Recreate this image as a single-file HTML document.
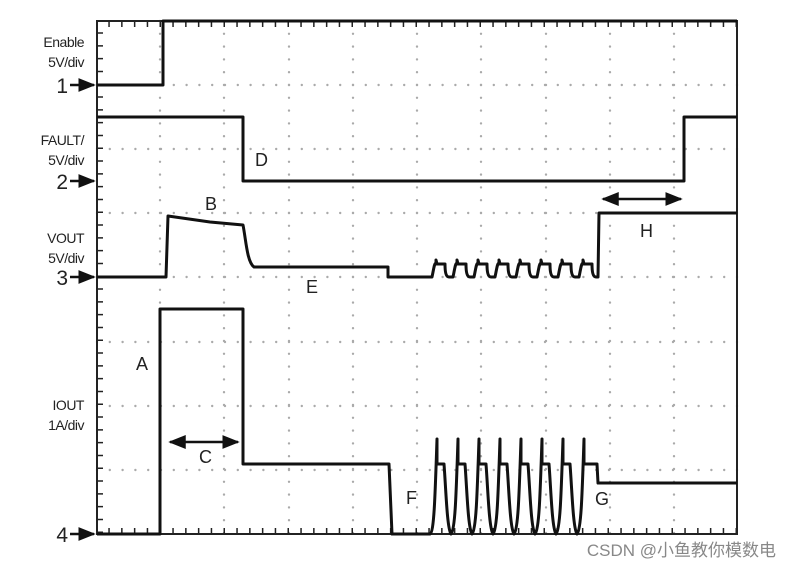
<!DOCTYPE html>
<html><head><meta charset="utf-8"><style>
html,body{margin:0;padding:0;background:#fff;}
svg{display:block;}
text{font-family:"Liberation Sans",Arial,sans-serif;fill:#222;}
</style></head><body>
<svg width="790" height="568" viewBox="0 0 790 568" xmlns="http://www.w3.org/2000/svg">
<defs>
<marker id="ar" viewBox="0 0 10 10" refX="9" refY="5" markerWidth="7" markerHeight="7" orient="auto-start-reverse"><path d="M0,1 L10,5 L0,9 z" fill="#111"/></marker>
</defs>
<g stroke="#aaa" stroke-width="2.4" stroke-linecap="round" stroke-dasharray="0 12.8">
<line x1="160" y1="21" x2="160" y2="534"/>
<line x1="224" y1="21" x2="224" y2="534"/>
<line x1="289" y1="21" x2="289" y2="534"/>
<line x1="353" y1="21" x2="353" y2="534"/>
<line x1="417" y1="21" x2="417" y2="534"/>
<line x1="481" y1="21" x2="481" y2="534"/>
<line x1="546" y1="21" x2="546" y2="534"/>
<line x1="610" y1="21" x2="610" y2="534"/>
<line x1="674" y1="21" x2="674" y2="534"/>
<line x1="97" y1="85" x2="737" y2="85"/>
<line x1="97" y1="149" x2="737" y2="149"/>
<line x1="97" y1="213" x2="737" y2="213"/>
<line x1="97" y1="277" x2="737" y2="277"/>
<line x1="97" y1="342" x2="737" y2="342"/>
<line x1="97" y1="406" x2="737" y2="406"/>
<line x1="97" y1="470" x2="737" y2="470"/>
</g>
<g stroke="#222" stroke-width="1.5" stroke-dasharray="1.5 11.3">
<line x1="100" y1="21" x2="100" y2="534" stroke-width="6" stroke-dashoffset="-11.3"/>
<line x1="97" y1="24" x2="737" y2="24" stroke-width="6" stroke-dashoffset="-11.3"/>
<line x1="97" y1="531" x2="737" y2="531" stroke-width="6" stroke-dashoffset="-11.3"/>
</g>
<rect x="97" y="21" width="640" height="513" fill="none" stroke="#222" stroke-width="2"/>
<g fill="none" stroke="#111" stroke-width="3" stroke-linejoin="round">
<polyline points="97,85 163,85 163,21 737,21"/>
<polyline points="97,117 243,117 243,181 684,181 684,117 737,117"/>
<path d="M97,277 L166,277 L168,216 L210,222 L243,225 C246,240 247,262 254,267 L388,267 L388,277 L432,277 C434,268 434,264 436,263 L436,260 L437,264 L445,264 C445,272 446,277 449,277 L453,277 C455,268 455,264 457,263 L457,260 L458,264 L466,264 C466,272 467,277 470,277 L474,277 C476,268 476,264 478,263 L478,260 L479,264 L487,264 C487,272 488,277 491,277 L495,277 C497,268 497,264 499,263 L499,260 L500,264 L508,264 C508,272 509,277 512,277 L516,277 C518,268 518,264 520,263 L520,260 L521,264 L529,264 C529,272 530,277 533,277 L537,277 C539,268 539,264 541,263 L541,260 L542,264 L550,264 C550,272 551,277 554,277 L558,277 C560,268 560,264 562,263 L562,260 L563,264 L571,264 C571,272 572,277 575,277 L579,277 C581,268 581,264 583,263 L583,260 L584,264 L592,264 C592,272 593,277 596,277 L598,277 L599,213 L737,213"/>
<path d="M97,534 L160,534 L160,309 L243,309 L243,464 L389,464 L392,534 L430,534 C434,532 435,500 437,439 L437,464 L444,464 C446,490 447,528 451,534 C455,530 456,500 458,439 L458,464 L465,464 C467,490 468,528 472,534 C476,530 477,500 479,439 L479,464 L486,464 C488,490 489,528 493,534 C497,530 498,500 500,439 L500,464 L507,464 C509,490 510,528 514,534 C518,530 519,500 521,439 L521,464 L528,464 C530,490 531,528 535,534 C539,530 540,500 542,439 L542,464 L549,464 C551,490 552,528 556,534 C560,530 561,500 563,439 L563,464 L570,464 C572,490 573,528 577,534 C581,530 582,500 584,439 L584,464 L597,464 L598,483 L737,483"/>
</g>
<g stroke="#111" stroke-width="2.5" fill="none">
<line x1="170" y1="442" x2="238" y2="442" marker-start="url(#ar)" marker-end="url(#ar)"/>
<line x1="603" y1="199" x2="681" y2="199" marker-start="url(#ar)" marker-end="url(#ar)"/>
<line x1="70" y1="85" x2="94" y2="85" marker-end="url(#ar)"/>
<line x1="70" y1="181" x2="94" y2="181" marker-end="url(#ar)"/>
<line x1="70" y1="277" x2="94" y2="277" marker-end="url(#ar)"/>
<line x1="70" y1="534" x2="94" y2="534" marker-end="url(#ar)"/>
</g>
<g font-size="14" text-anchor="end" style="letter-spacing:-0.5px">
<text x="84" y="47">Enable</text><text x="84" y="67">5V/div</text>
<text x="84" y="145">FAULT/</text><text x="84" y="165">5V/div</text>
<text x="84" y="243">VOUT</text><text x="84" y="263">5V/div</text>
<text x="84" y="410">IOUT</text><text x="84" y="430">1A/div</text>
</g>
<g font-size="21" text-anchor="end">
<text x="68" y="93">1</text><text x="68" y="189">2</text><text x="68" y="285">3</text><text x="68" y="542">4</text>
</g>
<g font-size="18">
<text x="136" y="370">A</text>
<text x="205" y="210">B</text>
<text x="199" y="463">C</text>
<text x="255" y="166">D</text>
<text x="306" y="293">E</text>
<text x="406" y="504">F</text>
<text x="595" y="505">G</text>
<text x="640" y="237">H</text>
</g>
<text x="776" y="556" font-size="17" text-anchor="end" style="font-family:'Liberation Sans','Noto Sans CJK SC',sans-serif;fill:#888">CSDN @小鱼教你模数电</text>
</svg>
</body></html>
